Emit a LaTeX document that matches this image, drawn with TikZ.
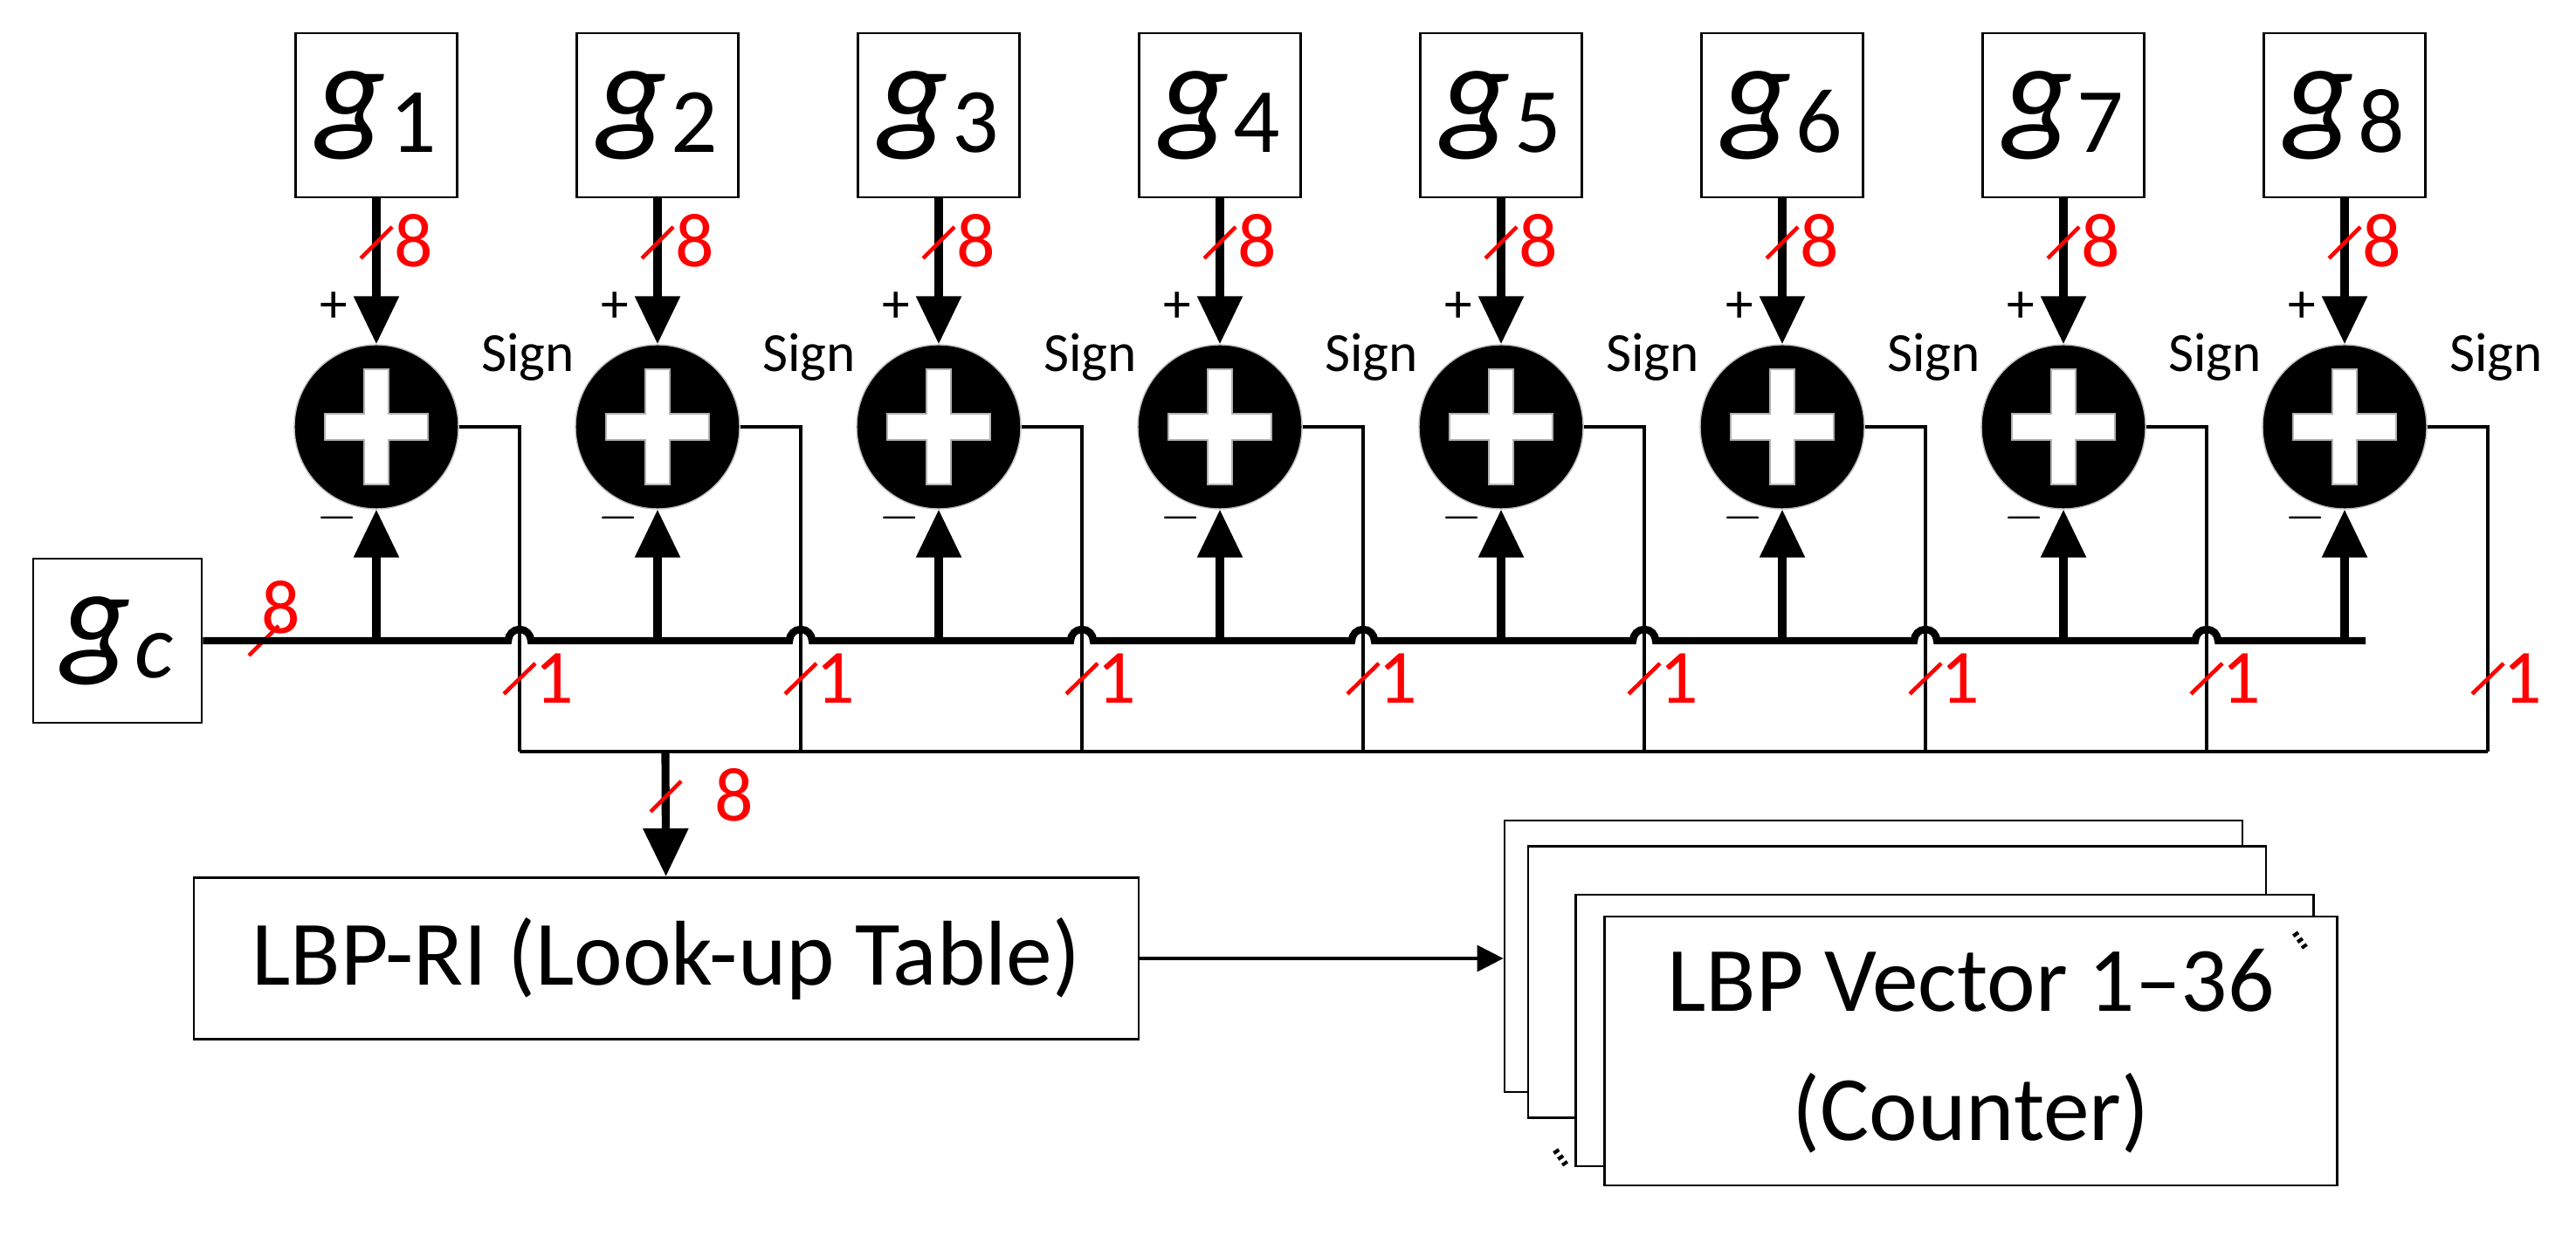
\documentclass[tikz,border=0pt]{standalone}
\usepackage{fontspec}
\setmainfont{Carlito}
\usetikzlibrary{arrows.meta, calc, positioning}

\tikzset{
  box/.style={draw, thick, fill=white, inner sep=0pt},
  adder/.style={circle, draw=gray!50, fill=black, minimum size=1.88cm, inner sep=0pt},
  bigarrow/.style={line width=2.6pt, -{Triangle[length=0.55cm,width=0.5cm]}},
  wire/.style={line width=0.9pt},
  bus/.style={line width=2.4pt},
  width/.style={red, font=\fontsize{25}{27}\selectfont},
  slash/.style={red, line width=1.3pt},
  sign/.style={font=\fontsize{18}{20}\selectfont},
}
\newcommand{\gsym}[1]{{\fontsize{44}{46}\selectfont\itshape g\kern0.03em\raisebox{-0.12em}{\upshape\fontsize{30}{32}\selectfont #1}}}

\begin{document}
\begin{tikzpicture}
  \useasboundingbox (0,0) rectangle (29.5,14.23);

  % centre pixel and the bus rows
  \node[box, minimum width=1.93cm, minimum height=1.88cm] (gc) at (1.345,6.89) {\gsym{\itshape c}};
  \draw[slash] (2.85,6.72) -- (3.19,7.06);
  \node[width] at (3.22,7.27) {8};

  \foreach \i in {1,...,8}{
    \pgfmathsetmacro{\x}{4.31+(\i-1)*3.22}
    % neighbour and adder
    \node[box, minimum width=1.85cm, minimum height=1.88cm] (g\i) at (\x,12.91) {\gsym{\i}};
    \node[adder] (a\i) at (\x,9.34) {};
    \fill[white, draw=gray!60] ($(a\i)+(-0.59,-0.15)$) rectangle ($(a\i)+(0.59,0.15)$);
    \fill[white, draw=gray!60] ($(a\i)+(-0.14,-0.66)$) rectangle ($(a\i)+(0.14,0.66)$);
    \fill[white] ($(a\i)+(-0.58,-0.14)$) rectangle ($(a\i)+(0.58,0.14)$);
    \draw[bigarrow] (g\i) -- (a\i);
    \node[sign] at ($(a\i)+(-0.49,1.37)$) {+};
    \node[sign] at ($(a\i)+(-0.45,-1.04)$) {$-$};
    \node[sign, anchor=west] at ($(a\i)+(1.08,0.8)$) {Sign};
    \draw[slash] ($(a\i)+(-0.18,1.93)$) -- ($(a\i)+(0.18,2.29)$);
    \node[width] at ($(a\i)+(0.43,2.13)$) {8};
    % subtraction input from the bus
    \coordinate (b\i) at (\x,6.89);
    \draw[bigarrow] (b\i) -- (a\i);
    % sign output down to the 1-bit row
    \coordinate (s\i) at (\x+1.64,5.62);
    \draw[wire] (a\i.east) -| (s\i);
    \draw[slash] ($(s\i)+(-0.18,0.66)$) -- ($(s\i)+(0.18,1.01)$);
    \node[width] at ($(s\i)+(0.4,0.84)$) {1};
  }

  % centre bus with hops over the sign wires
  \draw[bus] (gc.east)
    \foreach \i in {1,...,7}{ -- ($(s\i|-b1)+(-0.13,0)$) arc (180:0:0.13) }
    -- (27.09,6.89);
  \draw[wire] (s1) -- (s8);

  % look-up table and counters
  \node[box, minimum width=10.82cm, minimum height=1.85cm,
        font=\fontsize{30}{34}\selectfont] (lut) at (7.63,3.25) {LBP-RI (Look-up Table)};
  \coordinate (m) at (7.62,5.62);
  \draw[bigarrow] (m) -- (lut);
  \draw[slash] (7.45,4.93) -- (7.8,5.28);
  \node[width] at (8.41,5.12) {8};

  \node[box, minimum width=8.45cm, minimum height=3.11cm] (c1) at (21.455,3.275) {};
  \node[box, minimum width=8.45cm, minimum height=3.11cm] (c2) at (21.725,2.98) {};
  \node[box, minimum width=8.45cm, minimum height=3.11cm] (c3) at (22.27,2.425) {};
  \node[box, minimum width=8.39cm, minimum height=3.08cm, align=center,
        font=\fontsize{30}{42}\selectfont] (c4) at (22.57,2.19) {LBP Vector 1--36\\(Counter)};
  \draw[line width=2pt, dash pattern=on 1.2pt off 1.2pt] ($(c4.north east)+(-0.5,-0.2)$) -- ($(c4.north east)+(-0.38,-0.37)$);
  \draw[line width=2pt, dash pattern=on 1.2pt off 1.2pt] ($(c4.south west)+(-0.55,0.42)$) -- ($(c4.south west)+(-0.43,0.25)$);
  \draw[wire, -{Triangle[length=0.3cm,width=0.3cm]}] (lut) -- (lut-|c1.west);
\end{tikzpicture}
\end{document}
